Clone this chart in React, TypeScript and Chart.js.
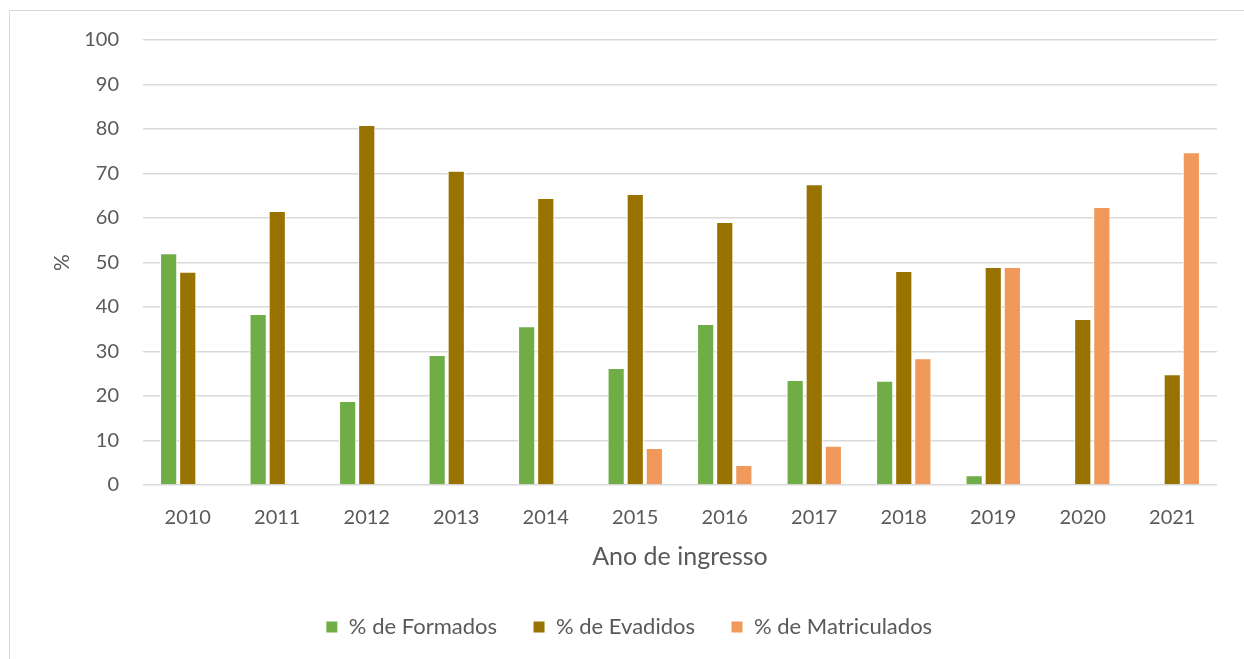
import React, { useEffect, useRef } from "react";
import { Chart, registerables } from "chart.js";

Chart.register(...registerables);

const categories = ["2010", "2011", "2012", "2013", "2014", "2015", "2016", "2017", "2018", "2019", "2020", "2021"];
const formados = [52.1, 38.4, 18.9, 29.2, 35.7, 26.3, 36.2, 23.6, 23.4, 2.2, 0, 0];
const evadidos = [47.9, 61.6, 80.9, 70.6, 64.5, 65.4, 59.1, 67.6, 48.1, 49.0, 37.3, 24.9];
const matriculados = [0, 0, 0, 0, 0, 8.3, 4.5, 8.8, 28.5, 49.0, 62.5, 74.8];
const yTicks = [0, 10, 20, 30, 40, 50, 60, 70, 80, 90, 100];

const FONT = "Lato, 'Open Sans', sans-serif";
const GRAY = "#595959";

export default function App() {
  const ref = useRef<HTMLCanvasElement | null>(null);
  useEffect(() => {
    if (!ref.current) return;
    const chart = new Chart(ref.current, {
      type: "bar",
      data: {
        labels: categories,
        datasets: [
          { label: "% de Formados", data: formados, backgroundColor: "#70AD47", borderColor: "#ffffff", borderWidth: 1 },
          { label: "% de Evadidos", data: evadidos, backgroundColor: "#997300", borderColor: "#ffffff", borderWidth: 1 },
          { label: "% de Matriculados", data: matriculados, backgroundColor: "#F1995B", borderColor: "#ffffff", borderWidth: 1 },
        ],
      },
      options: {
        responsive: false,
        animation: false,
        datasets: { bar: { categoryPercentage: 0.64, barPercentage: 0.9 } },
        layout: { padding: { left: 41, right: 27, top: 40, bottom: 11 } },
        plugins: {
          tooltip: { enabled: false },
          legend: {
            position: "bottom",
            labels: {
              font: { family: FONT, size: 22 },
              color: GRAY,
              boxWidth: 12,
              boxHeight: 12,
              padding: 36,
            },
          },
        },
        scales: {
          x: {
            grid: { display: false },
            border: { display: false },
            ticks: { font: { family: FONT, size: 20 }, color: GRAY, padding: 13, maxRotation: 0 },
            title: { display: true, text: "Ano de ingresso", font: { family: FONT, size: 25 }, color: GRAY, padding: { top: 0, bottom: 8 } },
            afterFit: (s: any) => { s.height = 95; },
          },
          y: {
            min: 0,
            max: 100,
            afterBuildTicks: (s: any) => { s.ticks = yTicks.map((v) => ({ value: v })); },
            grid: { color: "#D9D9D9", lineWidth: 1.5, drawTicks: false },
            border: { display: false },
            ticks: { font: { family: FONT, size: 20 }, color: GRAY, padding: 24 },
            title: { display: true, text: "%", font: { family: FONT, size: 21 }, color: GRAY, padding: { top: 9, bottom: 0 } },
            afterFit: (s: any) => { s.width = 102; },
          },
        },
      },
    });
    return () => chart.destroy();
  }, []);
  return (
    <div style={{ position: "absolute", left: 0, top: 0, width: 1244, height: 659, background: "#fff", overflow: "hidden" }}>
      <div style={{ position: "absolute", left: 9, top: 10, width: 1260, height: 700, border: "1.5px solid #D9D9D9", boxSizing: "border-box" }} />
      <canvas ref={ref} width={1244} height={659} style={{ position: "absolute", left: 0, top: 0 }} />
    </div>
  );
}
